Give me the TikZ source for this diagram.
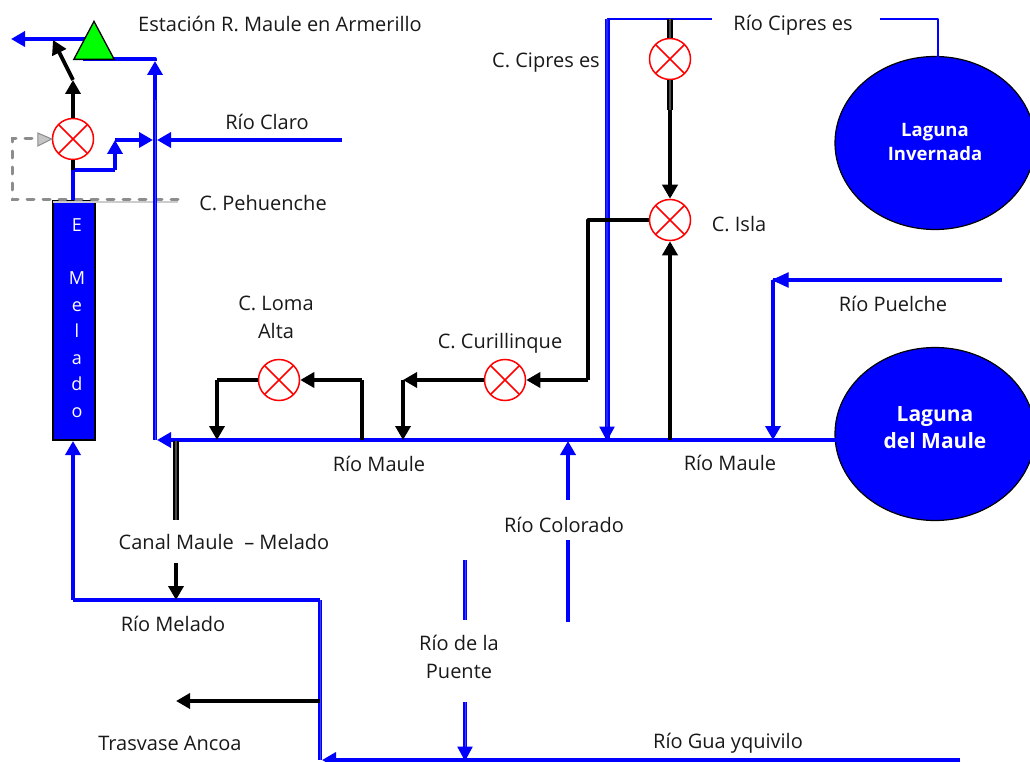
\documentclass[tikz,border=0pt]{standalone}
\usepackage{fontspec}
\setmainfont{Open Sans}
\usetikzlibrary{arrows.meta,shapes.geometric,calc}
\definecolor{rio}{RGB}{0,0,255}
\definecolor{gris}{RGB}{140,140,140}
\tikzset{
  x=1pt,y=-1pt,
  tip/.style={-{Triangle[length=14pt,width=15pt]}},
  river/.style={draw=rio,line width=4.1pt,line join=round},
  riverd/.style={draw=rio,line width=2pt,double=white!25!rio,double distance=0.9pt,line join=round},
  riverw/.style={draw=rio,line width=1.6pt,double=white!15!rio,double distance=1.8pt,line join=round},
  riverthin/.style={draw=rio,line width=1.6pt,line join=round},
  canal/.style={draw=black,line width=3.8pt,line join=round},
  canald/.style={draw=black,line width=2pt,double=white!30!black,double distance=1.1pt,line join=round},
  dashgray/.style={draw=gris,line width=3pt,dash pattern=on 7pt off 9pt,line cap=round},
  valve/.style={circle,draw=red,fill=white,line width=1.5pt,minimum size=41pt,inner sep=0pt,
    path picture={\draw[red,line width=1.5pt]
      (path picture bounding box.north west)--(path picture bounding box.south east)
      (path picture bounding box.north east)--(path picture bounding box.south west);}},
  laguna/.style={ellipse,draw=black,fill=rio,line width=1.2pt,minimum width=200pt,minimum height=173pt,inner sep=0pt},
  lagtext/.style={text=white,align=center,font=\bfseries\fontsize{18.5}{24}\selectfont},
  lab/.style={align=center,inner sep=0pt,font=\fontsize{20}{27.5}\selectfont,text=black!90},
}
\begin{document}
\begin{tikzpicture}
\useasboundingbox (0,0) rectangle (1030,762);
% nodes
\node[laguna] (inv) at (935,143) {};
\node[laguna] (mau) at (935,434) {};
\node[lagtext] (invt) at (935,142) {Laguna\\Invernada};
\node[lagtext,font=\bfseries\fontsize{21}{27}\selectfont] (maut) at (935,428) {Laguna\\del Maule};
\node[draw=black,fill=rio,line width=1.5pt,minimum width=42pt,minimum height=239pt,inner sep=0pt] (box) at (74,320.5) {};
\node[text=white,align=center,font=\fontsize{18}{26.5}\selectfont,inner sep=0pt] (boxt) at (77,318) {E\\[26.5pt]M\\e\\l\\a\\d\\o};
\node[valve] (vpeh) at (73,139) {};
\node[valve] (vcip) at (670,59) {};
\node[valve] (visl) at (670,220) {};
\node[valve] (vcur) at (505,380) {};
\node[valve] (vlom) at (279,380) {};
% named points
\coordinate (stC) at (83,59);
\coordinate (w1) at (11,39); \coordinate (w2) at (85,39);
\coordinate (j1) at (155,59); \coordinate (j1t) at (155,61); \coordinate (j2) at (155,440); \coordinate (j3) at (155,100);
\coordinate (m0) at (157,440); \coordinate (m1) at (840,440);
\coordinate (a1) at (73,80); \coordinate (a2) at (53,40);
\coordinate (b0) at (73,170); \coordinate (b1) at (115,170); \coordinate (b2) at (115,140); \coordinate (b3) at (153,140);
\coordinate (c0) at (342,140); \coordinate (c1) at (157,140);
\coordinate (d0) at (178,200); \coordinate (d1) at (12,200); \coordinate (d2) at (12,139);
\coordinate (g0) at (53,202); \coordinate (g1) at (178,202);
\coordinate (e0) at (73,441); \coordinate (e1) at (73,600); \coordinate (e2) at (320,600); \coordinate (e3) at (320,760);
\coordinate (f0) at (960,760); \coordinate (f1) at (322,760);
\coordinate (h0) at (607,19); \coordinate (h1) at (712,19); \coordinate (h2) at (607,440);
\coordinate (i0) at (880,19); \coordinate (i1) at (938,19); \coordinate (i2) at (938,58);
\coordinate (k0) at (670,19); \coordinate (k1) at (670,440); \coordinate (k2) at (588,220); \coordinate (k3) at (588,380);
\coordinate (k4) at (670,110);
\coordinate (n1) at (403,380); \coordinate (n2) at (403,440);
\coordinate (o1) at (217,380); \coordinate (o2) at (217,440); \coordinate (o3) at (362,440); \coordinate (o4) at (362,380);
\coordinate (p0) at (176,441); \coordinate (p1) at (176,520); \coordinate (p2) at (176,563); \coordinate (p3) at (176,600);
\coordinate (q0) at (320,701); \coordinate (q1) at (176,701);
\coordinate (r0) at (568,622); \coordinate (r1) at (568,540); \coordinate (r2) at (568,500); \coordinate (r3) at (568,441);
\coordinate (s0) at (465,560); \coordinate (s1) at (465,620); \coordinate (s2) at (465,702); \coordinate (s3) at (465,760);
\coordinate (t0) at (1002,280); \coordinate (t1) at (773,280); \coordinate (t2) at (773,440);
% gray
\draw[white!80!black,line width=1.2pt] (g0)--(g1);
\draw[dashgray] (d0)--(d1)--(d2)--(vpeh.west|-d2);
\draw[draw=gris,fill=gris!50,line width=1pt] ($(vpeh.west)+(-14,-6)$)--(vpeh.west)--($(vpeh.west)+(-14,7)$)--cycle;
% main blue
\draw[river,tip] (w2)--(w1);
\draw[river] (stC)--(j1)--(j1t);
\draw[riverd] (j2)--(j3);
\draw[river,tip] (j3)--(j1t);
\draw[river,tip] (m1)--(m0);
\draw[river] (vpeh.south|-b0)--(vpeh.south|-box.north);
\draw[river] (b0)--(b1);
\draw[river,tip] (b1)--(b2);
\draw[river,tip] (b2)--(b3);
\draw[river,tip] (c0)--(c1);
\draw[river,tip] (e1)--(e0);
\draw[river] (e1)--(e2);
\draw[riverd] (e2)--(e3);
\draw[river,tip] (f0)--(f1);
\draw[riverthin] (h1)--(h0);
\draw[riverw] (h0)--(h2);
\draw[rio,fill=rio,line width=1pt] ($(h2)+(-7,-13)$)--(h2)--($(h2)+(7,-13)$)--cycle;
\draw[riverthin] (i0)--(i1)--(i2);
\draw[river,tip] (r2)--(r3);
\draw[river] (r0)--(r1);
\draw[riverd] (s0)--(s1);
\draw[riverd] (s2)--(s3);
\draw[rio,fill=rio,line width=1pt] ($(s3)+(-7,-13)$)--(s3)--($(s3)+(7,-13)$)--cycle;
\draw[river] (t0)--(t1);
\draw[rio,fill=rio,line width=1pt] ($(t1)+(15,-7)$)--(t1)--($(t1)+(15,7)$)--cycle;
\draw[river,tip] (t1)--(t2);
% black
\draw[canal,tip] (vpeh.north)--(a1);
\draw[canal,tip] (a1)--(a2);
\draw[canal] (vpeh.south)--(vpeh.south|-b0);
\draw[canald] (k0)--(vcip.north);
\draw[canald] (vcip.south)--(k4);
\draw[canal,tip] (k4)--(visl.north);
\draw[canal,tip] (k1)--(visl.south);
\draw[canal] (visl.west)--(k2)--(k3);
\draw[canal,tip] (k3)--(vcur.east);
\draw[canal,tip] (vcur.west)--(n1);
\draw[canal,tip] (n1)--(n2);
\draw[canal] (vlom.west)--(o1);
\draw[canal,tip] (o1)--(o2);
\draw[canal] (o3)--(o4);
\draw[canal,tip] (o4)--(vlom.east);
\draw[canald] (p0)--(p1);
\draw[canal,tip] (p2)--(p3);
\draw[canal,tip] (q0)--(q1);
% station
\node[isosceles triangle,isosceles triangle apex angle=56,shape border rotate=90,draw=black,fill=green,line width=1.3pt,minimum height=38pt,inner sep=0pt,anchor=apex] (st) at (94,20) {};
% labels
\node[lab] (l1) at (280,24) {Estación R. Maule en Armerillo};
\node[lab] (l2) at (793,25) {Río Cipres es};
\node[lab] (l3) at (546,63) {C. Cipres es};
\node[lab] (l4) at (267,122) {Río Claro};
\node[lab] (l5) at (263,203) {C. Pehuenche};
\node[lab] (l6) at (739,224) {C. Isla};
\node[lab] (l7) at (893,304) {Río Puelche};
\node[lab] (l8) at (276,317.5) {C. Loma\\Alta};
\node[lab] (l9) at (500,343) {C. Curillinque};
\node[lab] (l10) at (379,464) {Río Maule};
\node[lab] (l11) at (730,463) {Río Maule};
\node[lab] (l12) at (564,525) {Río Colorado};
\node[lab] (l13) at (224,542) {Canal Maule\ \ – Melado};
\node[lab] (l14) at (173,624) {Río Melado};
\node[lab] (l15) at (459,657) {Río de la\\Puente};
\node[lab] (l16) at (170,743) {Trasvase Ancoa};
\node[lab] (l17) at (728,743) {Río Gua yquivilo};
\end{tikzpicture}
\end{document}
